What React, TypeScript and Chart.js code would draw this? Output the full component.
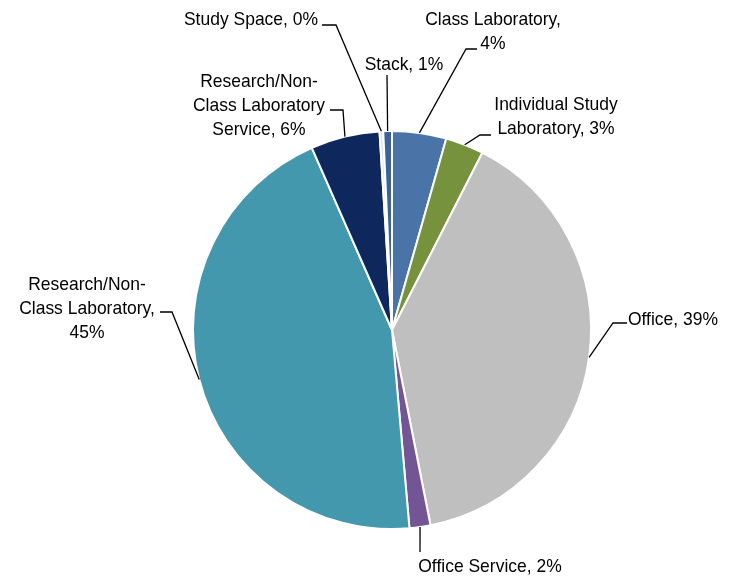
import React, { useEffect, useRef } from "react";
import { Chart, registerables } from "chart.js";

Chart.register(...registerables);

// ---- data ----
const categories = [
  "Class Laboratory",
  "Individual Study Laboratory",
  "Office",
  "Office Service",
  "Research/Non-Class Laboratory",
  "Research/Non-Class Laboratory Service",
  "Study Space",
  "Stack",
];
const shares = [4.4, 3.1, 39.4, 1.7, 44.8, 5.6, 0.3, 0.7];
const colors = ["#4A73A8", "#76923C", "#BFBFBF", "#735494", "#4398AE", "#0E285E", "#DCE6F2", "#3A6398"];

// ---- label layout (text block centre x, first baseline y, wrap width, leader elbow, leader end) ----
const labelLayout = [
  { cx: 493, y: 25, maxWidth: 145, elbow: [466, 49], end: [477, 49] },
  { cx: 556, y: 110, maxWidth: 145, elbow: [480, 135], end: [491, 135] },
  { cx: 673, y: 325, maxWidth: 400, elbow: [613, 323], end: [627, 323] },
  { cx: 490, y: 572, maxWidth: 400, elbow: [420, 552], end: [420, 552] },
  { cx: 87, y: 290, maxWidth: 145, elbow: [172, 312], end: [160, 312] },
  { cx: 259, y: 87, maxWidth: 145, elbow: [343, 110], end: [330, 110] },
  { cx: 251, y: 25, maxWidth: 400, elbow: [336, 25], end: [322, 25] },
  { cx: 404, y: 70, maxWidth: 400, elbow: [387, 75], end: [387, 75] },
];

const FONT = "19px 'Liberation Sans', Arial, sans-serif";
const X_SCALE = 0.92;
const LINE_H = 24;

function wrap(ctx: CanvasRenderingContext2D, text: string, maxWidth: number): string[] {
  const tokens: { t: string; sep: string }[] = [];
  text.split(" ").forEach((w, wi, arr) => {
    const parts = w.split(/(?<=-)/);
    parts.forEach((p, pi) => {
      const last = pi === parts.length - 1;
      tokens.push({ t: p, sep: last && wi < arr.length - 1 ? " " : "" });
    });
  });
  const lines: string[] = [];
  let cur = "";
  let prevSep = "";
  tokens.forEach((tok) => {
    const candidate = cur === "" ? tok.t : cur + prevSep + tok.t;
    if (cur !== "" && ctx.measureText(candidate).width * X_SCALE > maxWidth) {
      lines.push(cur);
      cur = tok.t;
    } else {
      cur = candidate;
    }
    prevSep = tok.sep;
  });
  if (cur) lines.push(cur);
  return lines;
}

const outsideLabels = {
  id: "outsideLabels",
  afterDatasetsDraw(chart: any) {
    const ctx: CanvasRenderingContext2D = chart.ctx;
    const meta = chart.getDatasetMeta(0);
    const total = shares.reduce((a, b) => a + b, 0);
    ctx.save();
    ctx.font = FONT;
    ctx.fillStyle = "#000";
    ctx.strokeStyle = "#000";
    ctx.lineWidth = 1.3;
    ctx.textAlign = "center";
    ctx.textBaseline = "alphabetic";
    meta.data.forEach((arc: any, i: number) => {
      const p = arc.getProps(["x", "y", "startAngle", "endAngle", "outerRadius"], true);
      const mid = (p.startAngle + p.endAngle) / 2;
      const ax = p.x + Math.cos(mid) * p.outerRadius;
      const ay = p.y + Math.sin(mid) * p.outerRadius;
      const L = labelLayout[i];
      ctx.beginPath();
      ctx.moveTo(ax, ay);
      ctx.lineTo(L.elbow[0], L.elbow[1]);
      ctx.lineTo(L.end[0], L.end[1]);
      ctx.stroke();
      const pct = Math.round((shares[i] / total) * 100);
      const text = `${categories[i]}, ${pct}%`;
      const lines = wrap(ctx, text, L.maxWidth);
      lines.forEach((ln, k) => {
        ctx.save();
        ctx.translate(L.cx, L.y + k * LINE_H);
        ctx.scale(X_SCALE, 1);
        ctx.fillText(ln, 0, 0);
        ctx.restore();
      });
    });
    ctx.restore();
  },
};

export default function App() {
  const ref = useRef<HTMLCanvasElement | null>(null);
  useEffect(() => {
    if (!ref.current) return;
    const chart = new Chart(ref.current, {
      type: "pie",
      data: {
        labels: categories,
        datasets: [
          {
            data: shares,
            backgroundColor: colors,
            borderColor: "#FFFFFF",
            borderWidth: 2,
            radius: 199,
          } as any,
        ],
      },
      options: {
        responsive: false,
        animation: false,
        events: [],
        layout: { padding: { left: 55, right: 0, top: 82, bottom: 0 } },
        plugins: {
          legend: { display: false },
          tooltip: { enabled: false },
        },
      },
      plugins: [outsideLabels],
    });
    return () => chart.destroy();
  }, []);
  return (
    <div style={{ position: "absolute", left: 0, top: 0, width: 729, height: 578, background: "#fff" }}>
      <canvas ref={ref} width={729} height={578} style={{ display: "block" }} />
    </div>
  );
}
